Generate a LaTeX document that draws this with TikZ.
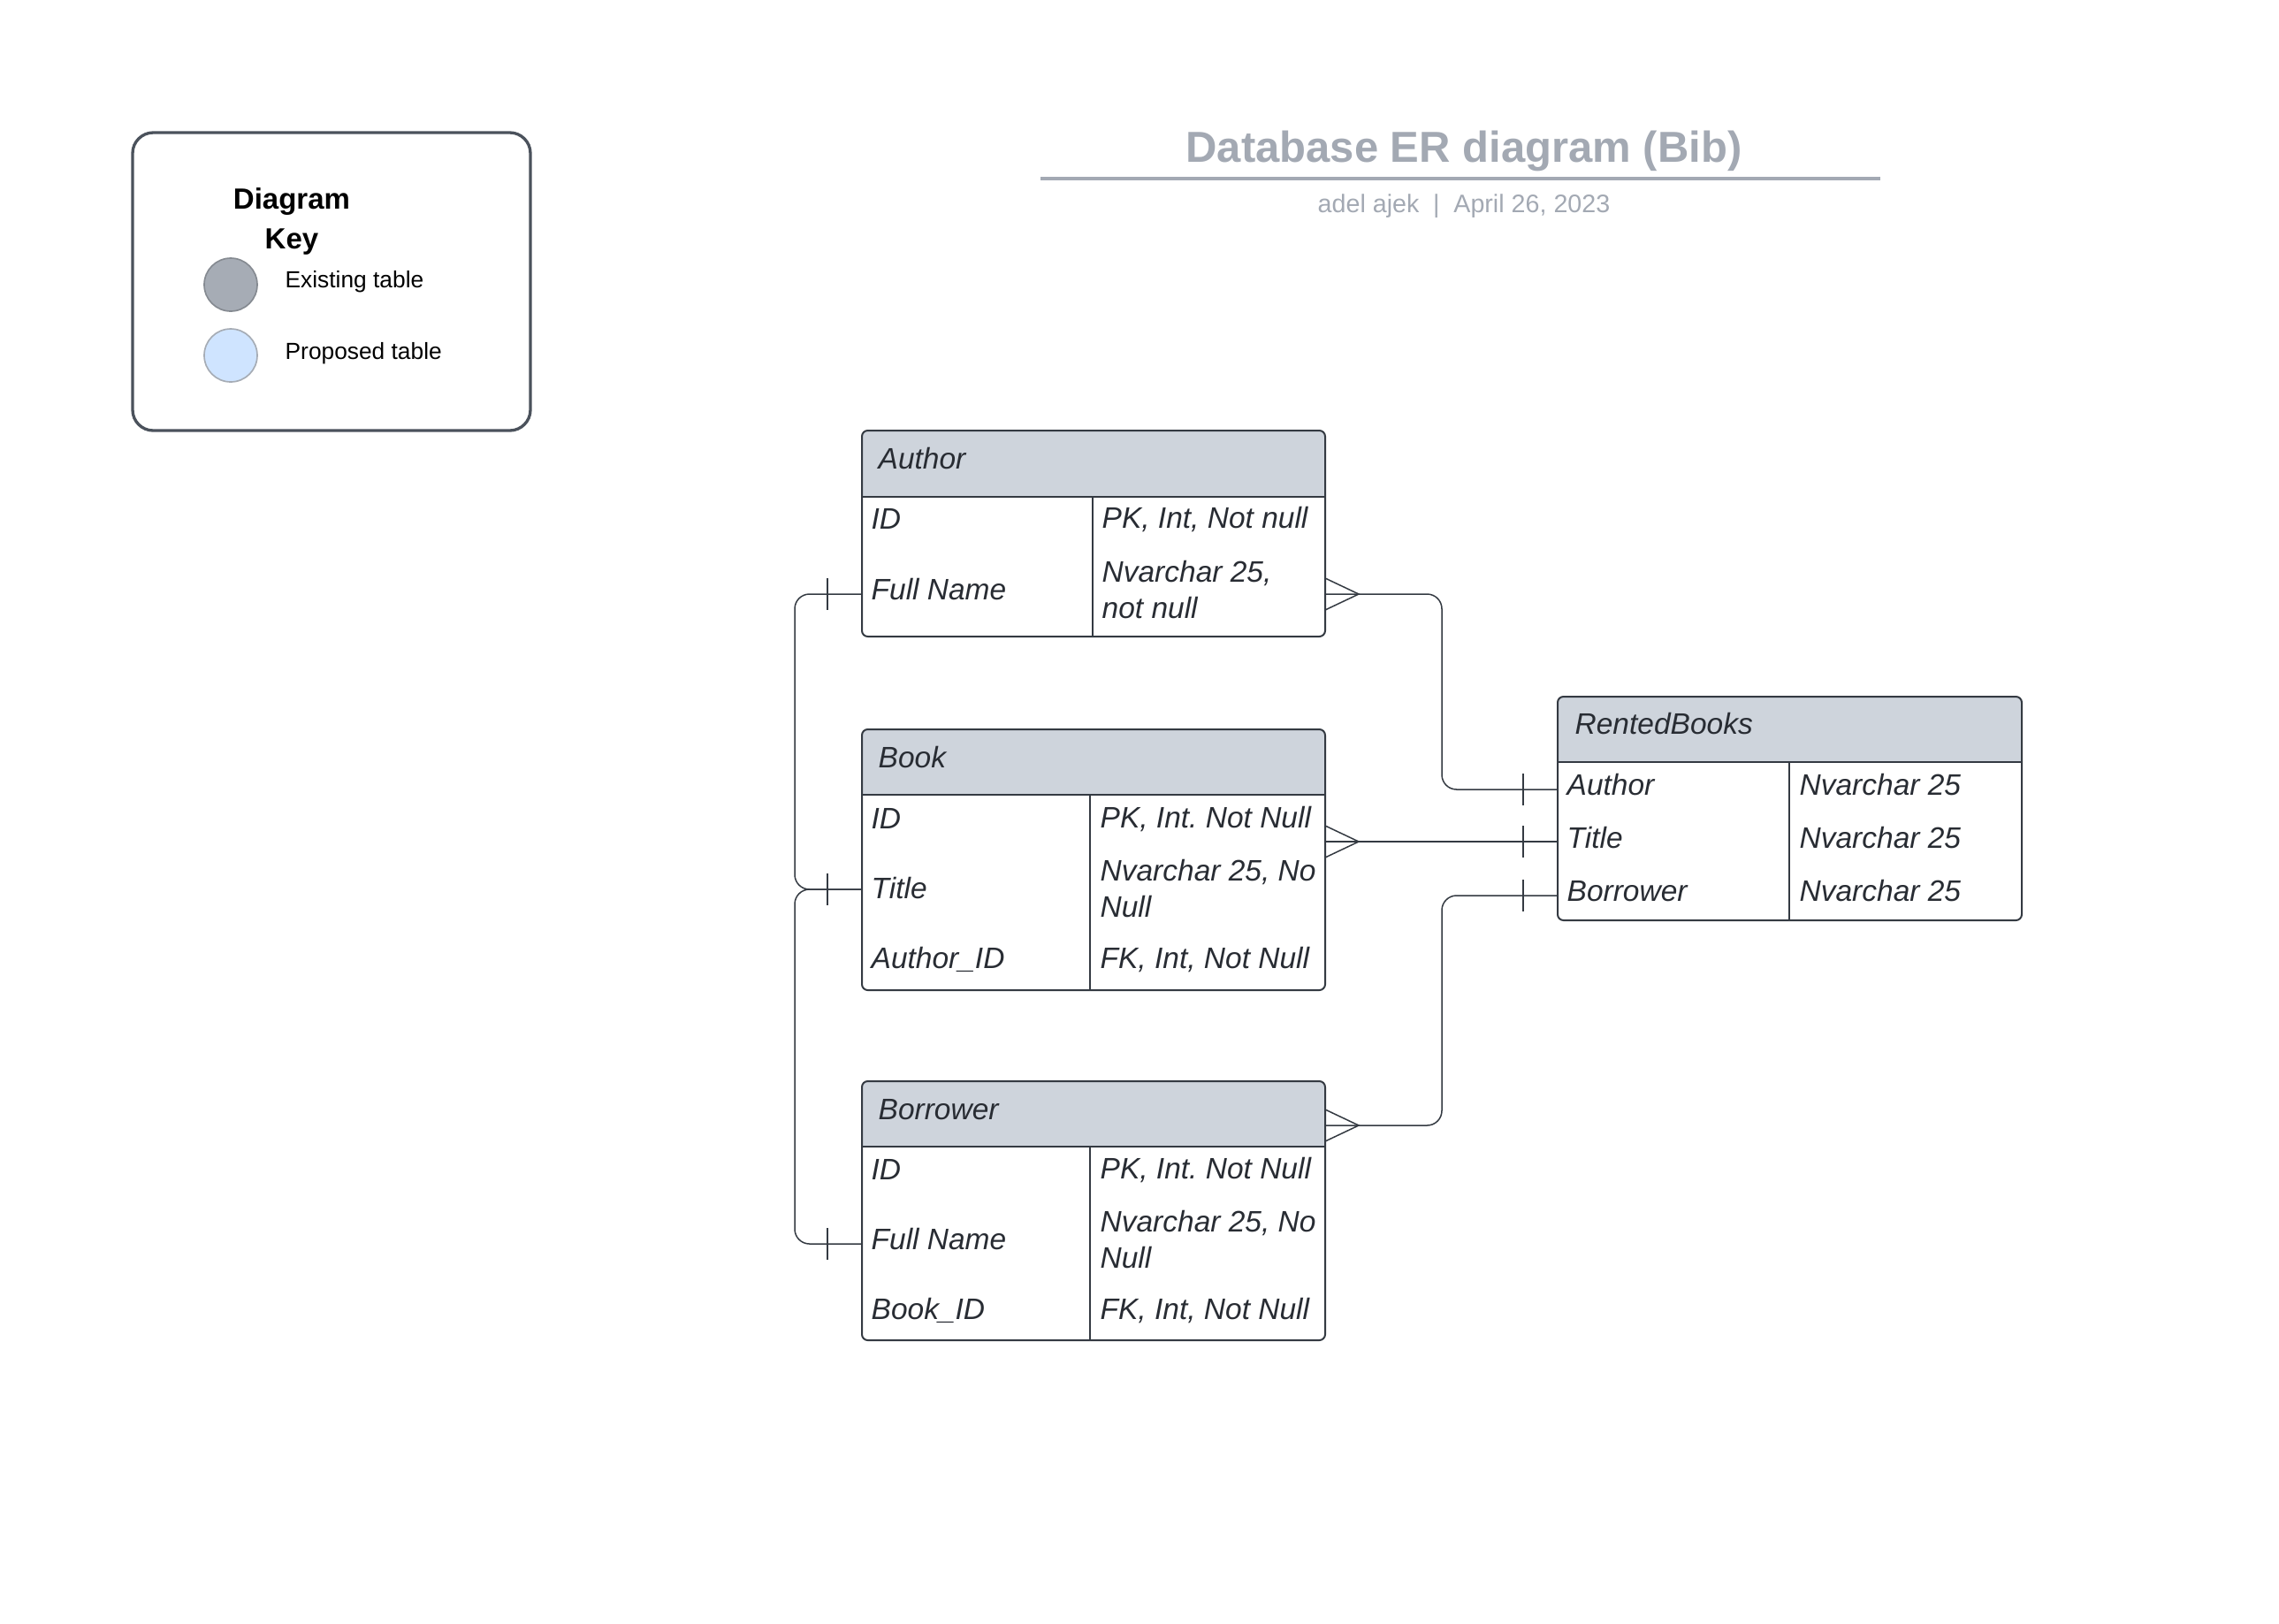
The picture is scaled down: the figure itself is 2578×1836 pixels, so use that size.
\documentclass[tikz,border=0pt]{standalone}
\usepackage{fontspec}
\setmainfont{Liberation Sans}
\frenchspacing

\definecolor{hdr}{HTML}{CED4DC}
\definecolor{edge}{HTML}{343A42}
\definecolor{ink}{HTML}{282C33}
\definecolor{mute}{HTML}{A3A9B3}
\definecolor{keyline}{HTML}{4B525C}
\definecolor{oldtab}{HTML}{A6ACB5}
\definecolor{newtab}{HTML}{CFE4FF}

\begin{document}
\begin{tikzpicture}[
		x=0.3pt, y=-0.3pt,
		every node/.style={inner sep=0pt, text=ink},
		cell/.style={anchor=west, align=left, font=\fontsize{10.05}{12.3}\selectfont\itshape},
		keytext/.style={anchor=west, text=black, font=\fontsize{7.9}{10}\selectfont},
		dot/.style={circle, minimum size=18pt, line width=0.5pt},
		tbl/.style={draw=edge, line width=0.6pt, rounded corners=2pt},
		link/.style={draw=edge, line width=0.45pt}
	]
  \path[use as bounding box] (0,0) rectangle (2578,1836);

  \draw[keyline, line width=1pt, rounded corners=7pt] (150,150) rectangle (600,487);
  \node (key) [align=center, text=black, font=\fontsize{9.9}{13.5}\selectfont\bfseries] at (330,250) {Diagram\\Key};
  \node (old) [dot, draw=oldtab!80!black, fill=oldtab] at (261,322) {};
  \node (old_l) [keytext] at (322,319) {Existing table};
  \node (new) [dot, draw=oldtab, fill=newtab] at (261,402) {};
  \node (new_l) [keytext] at (322,400) {Proposed table};

  \node (title) [text=mute, font=\fontsize{14.7}{17}\selectfont\bfseries] at (1656,171) {Database ER diagram (Bib)};
  \draw[mute, line width=1.2pt] (1177,202) -- (2127,202);
  \node (byline) [text=mute, font=\fontsize{8.6}{10}\selectfont] at (1656,233) {adel ajek\hspace{0.55em}|\hspace{0.55em}April 26, 2023};

  \fill[hdr, rounded corners=2pt] (975,562) -- (975,487) -- (1499,487) -- (1499,562);
  \draw[tbl] (975,487) rectangle (1499,720);
  \draw[edge, line width=0.6pt] (975,562) -- (1499,562) (1236,562) -- (1236,720);
  \node (author) [cell] at (993,519) {Author};
  \node (author_id) [cell] at (985,587) {ID};
  \node (author_id_t) [cell] at (1246,587) {PK, Int, Not null};
  \node (author_fn) [cell] at (985,667) {Full Name};
  \node (author_fn_t) [cell] at (1246,667) {Nvarchar 25,\\not null};

  \fill[hdr, rounded corners=2pt] (975,899) -- (975,825) -- (1499,825) -- (1499,899);
  \draw[tbl] (975,825) rectangle (1499,1120);
  \draw[edge, line width=0.6pt] (975,899) -- (1499,899) (1233,899) -- (1233,1120);
  \node (book) [cell] at (993,857) {Book};
  \node (book_id) [cell] at (985,926) {ID};
  \node (book_id_t) [cell] at (1244,926) {PK, Int. Not Null};
  \node (book_title) [cell] at (985,1005) {Title};
  \node (book_title_t) [cell] at (1244,1005) {Nvarchar 25, No\\Null};
  \node (book_aid) [cell] at (985,1085) {Author\_ID};
  \node (book_aid_t) [cell] at (1244,1085) {FK, Int, Not Null};

  \fill[hdr, rounded corners=2pt] (975,1297) -- (975,1223) -- (1499,1223) -- (1499,1297);
  \draw[tbl] (975,1223) rectangle (1499,1516);
  \draw[edge, line width=0.6pt] (975,1297) -- (1499,1297) (1233,1297) -- (1233,1516);
  \node (borrower) [cell] at (993,1255) {Borrower};
  \node (borrower_id) [cell] at (985,1323) {ID};
  \node (borrower_id_t) [cell] at (1244,1323) {PK, Int. Not Null};
  \node (borrower_fn) [cell] at (985,1402) {Full Name};
  \node (borrower_fn_t) [cell] at (1244,1402) {Nvarchar 25, No\\Null};
  \node (borrower_bid) [cell] at (985,1482) {Book\_ID};
  \node (borrower_bid_t) [cell] at (1244,1482) {FK, Int, Not Null};

  \fill[hdr, rounded corners=2pt] (1762,862) -- (1762,788) -- (2287,788) -- (2287,862);
  \draw[tbl] (1762,788) rectangle (2287,1041);
  \draw[edge, line width=0.6pt] (1762,862) -- (2287,862) (2024,862) -- (2024,1041);
  \node (rented) [cell] at (1781,819) {RentedBooks};
  \node (rented_a) [cell] at (1772,888) {Author};
  \node (rented_a_t) [cell] at (2035,888) {Nvarchar 25};
  \node (rented_t) [cell] at (1772,948) {Title};
  \node (rented_t_t) [cell] at (2035,948) {Nvarchar 25};
  \node (rented_b) [cell] at (1772,1008) {Borrower};
  \node (rented_b_t) [cell] at (2035,1008) {Nvarchar 25};

  \coordinate (author_l) at (975,672);
  \coordinate (author_r) at (1499,672);
  \coordinate (book_l) at (975,1006);
  \coordinate (book_r) at (1499,952);
  \coordinate (borrower_l) at (975,1407);
  \coordinate (borrower_r) at (1499,1273);
  \coordinate (rented_al) at (1762,893);
  \coordinate (rented_tl) at (1762,952);
  \coordinate (rented_bl) at (1762,1013);
  \coordinate (bus_l) at (899,0);
  \coordinate (bus_r) at (1631,0);

  \draw[link, rounded corners=5pt] (author_l) -- (author_l -| bus_l) -- (book_l -| bus_l) -- (book_l);
  \draw[link, rounded corners=5pt] (book_l) -- (book_l -| bus_l) -- (borrower_l -| bus_l) -- (borrower_l);
  \draw[link, rounded corners=5pt] (author_r) -- (author_r -| bus_r) -- (rented_al -| bus_r) -- (rented_al);
  \draw[link] (book_r) -- (rented_tl);
  \draw[link, rounded corners=5pt] (borrower_r) -- (borrower_r -| bus_r) -- (rented_bl -| bus_r) -- (rented_bl);

  \foreach \c in {author_l, book_l, borrower_l, rented_al, rented_tl, rented_bl}
    \draw[link] (\c) ++(-39,-18) -- ++(0,36);
  \foreach \c in {author_r, book_r, borrower_r}
    \draw[link] (\c) ++(0,-18) -- ++(38,18) -- ++(-38,18);
\end{tikzpicture}
\end{document}
